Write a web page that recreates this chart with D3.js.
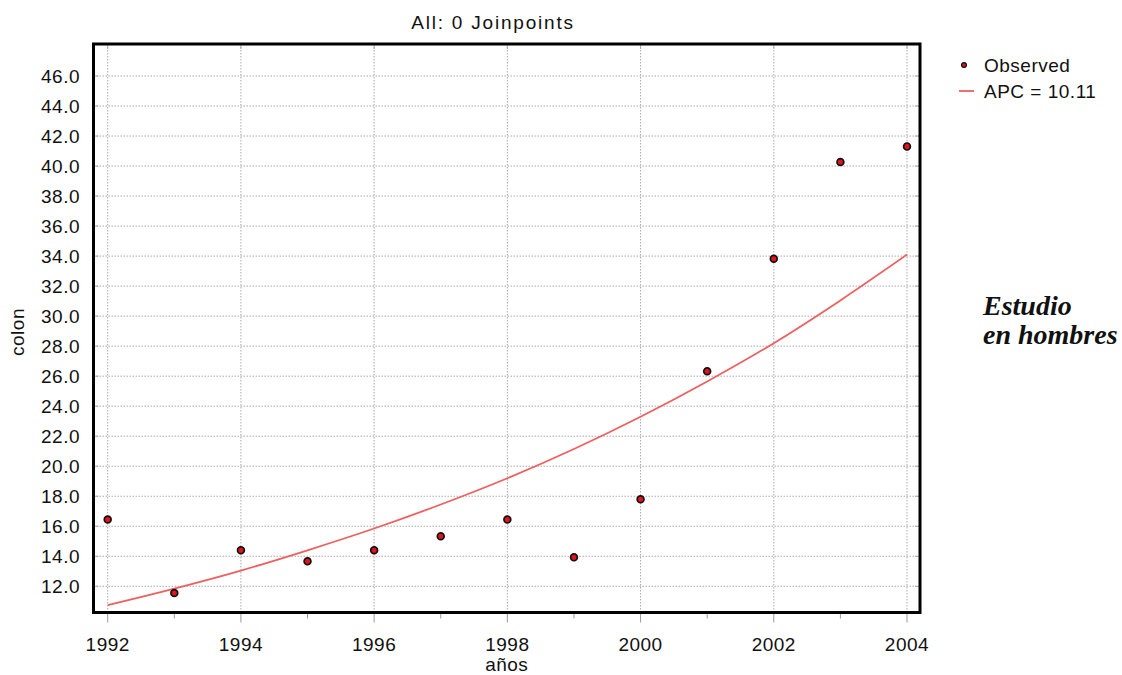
<!DOCTYPE html>
<html>
<head>
<meta charset="utf-8">
<script src="https://cdn.jsdelivr.net/npm/d3@7"></script>
<style>
  body { margin: 0; background: #fff; }
  text { font-family: "Liberation Sans", Arial, sans-serif; fill: #111; }
</style>
</head>
<body>
<div class="container"></div>
<script>
//Data
var years = [1992, 1993, 1994, 1995, 1996, 1997, 1998, 1999, 2000, 2001, 2002, 2003, 2004];
var observed = [16.45, 11.55, 14.4, 13.67, 14.4, 15.33, 16.45, 13.93, 17.8, 26.33, 33.82, 40.27, 41.31];
var fitted = [10.75, 11.85, 13.05, 14.4, 15.85, 17.45, 19.2, 21.15, 23.3, 25.65, 28.2, 31.05, 34.1];
var yTicks = [12, 14, 16, 18, 20, 22, 24, 26, 28, 30, 32, 34, 36, 38, 40, 42, 44, 46];
var xTicks = [1992, 1994, 1996, 1998, 2000, 2002, 2004];
var legendLabels = ["Observed", "APC = 10.11"];
var title = "All: 0 Joinpoints";

//margins
var width = 1122, height = 675;
var margin = {top: 44, right: 202, bottom: 62.5, left: 93.5},
    w = width - margin.left - margin.right,
    h = height - margin.top - margin.bottom;
var fs = "19px", ls = "0.5px";

var svg = d3.select(".container").append("svg")
    .attr("width", width)
    .attr("height", height);

var g = svg.append("g")
    .attr("transform", "translate(" + margin.left + "," + margin.top + ")");

//scales
var x = d3.scaleLinear().domain([1992, 2004]).range([14.2, 813.5]);
var y = d3.scaleLinear().domain([12, 46]).range([542.3, 32]);

//grid
var gridCol = "#aaa";
g.selectAll(".hgrid").data(yTicks).enter().append("line")
    .attr("x1", 0).attr("x2", w)
    .attr("y1", function(d){ return y(d); }).attr("y2", function(d){ return y(d); })
    .attr("stroke", gridCol).attr("stroke-dasharray", "1.5,1.5");
g.selectAll(".vgrid").data(xTicks).enter().append("line")
    .attr("y1", 0).attr("y2", h)
    .attr("x1", function(d){ return x(d); }).attr("x2", function(d){ return x(d); })
    .attr("stroke", gridCol).attr("stroke-dasharray", "1.5,1.5");

//small inner ticks
g.selectAll(".ltick").data(yTicks).enter().append("path")
    .attr("d", function(d){ return "M0," + y(d) + "h5M" + w + "," + y(d) + "h-5"; })
    .attr("stroke", gridCol);
g.selectAll(".ttick").data(xTicks).enter().append("path")
    .attr("d", function(d){ return "M" + x(d) + ",0v5"; })
    .attr("stroke", gridCol);

//x axis ticks below the frame (long at even years, short at odd)
g.selectAll(".xtick").data(years).enter().append("line")
    .attr("x1", function(d){ return x(d); }).attr("x2", function(d){ return x(d); })
    .attr("y1", h).attr("y2", function(d){ return h + (d % 2 === 0 ? 10 : 6); })
    .attr("stroke", "#999");

//tick labels
g.selectAll(".ylab").data(yTicks).enter().append("text")
    .attr("x", -13.5).attr("y", function(d){ return y(d); })
    .attr("dy", "0.35em")
    .attr("text-anchor", "end")
    .style("font-size", fs).style("letter-spacing", ls)
    .text(function(d){ return d3.format(".1f")(d); });
g.selectAll(".xlab").data(xTicks).enter().append("text")
    .attr("x", function(d){ return x(d); }).attr("y", h + 38)
    .attr("text-anchor", "middle")
    .style("font-size", fs).style("letter-spacing", ls)
    .text(function(d){ return d; });

//fitted line
var line = d3.line()
    .x(function(d, i){ return x(years[i]); })
    .y(function(d){ return y(d); })
    .curve(d3.curveMonotoneX);
g.append("path").datum(fitted)
    .attr("d", line)
    .attr("fill", "none")
    .attr("stroke", "#ee5f5f")
    .attr("stroke-width", 1.8);

//observed points
g.selectAll(".pt").data(observed).enter().append("circle")
    .attr("cx", function(d, i){ return x(years[i]); })
    .attr("cy", function(d){ return y(d); })
    .attr("r", 3.4)
    .attr("fill", "#e3131c")
    .attr("stroke", "#111")
    .attr("stroke-width", 1.7);

//frame
g.append("rect")
    .attr("width", w).attr("height", h)
    .attr("fill", "none").attr("stroke", "#000").attr("stroke-width", 3);

//titles
svg.append("text").attr("x", 493).attr("y", 29)
    .attr("text-anchor", "middle")
    .style("font-size", fs).style("letter-spacing", "1.8px")
    .text(title);
svg.append("text").attr("x", margin.left + w / 2).attr("y", 671)
    .attr("text-anchor", "middle")
    .style("font-size", fs).style("letter-spacing", ls)
    .text("años");
svg.append("text")
    .attr("transform", "translate(24,332) rotate(-90)")
    .attr("text-anchor", "middle")
    .style("font-size", fs).style("letter-spacing", ls)
    .text("colon");

//legend
var leg = svg.append("g").attr("transform", "translate(959,65)");
leg.append("circle").attr("cx", 5).attr("cy", 0).attr("r", 2.4)
    .attr("fill", "#e3131c").attr("stroke", "#111").attr("stroke-width", 1.3);
leg.append("line").attr("x1", 0).attr("x2", 15).attr("y1", 26).attr("y2", 26)
    .attr("stroke", "#ee5f5f").attr("stroke-width", 1.8);
leg.selectAll(".lt").data(legendLabels).enter().append("text")
    .attr("x", 25).attr("y", function(d, i){ return i * 26; })
    .attr("dy", "0.36em")
    .style("font-size", fs).style("letter-spacing", ls)
    .text(function(d){ return d; });

//note on the right
var note = svg.append("text")
    .style("font-family", "'Liberation Serif', 'Times New Roman', serif")
    .style("font-style", "italic").style("font-weight", "bold")
    .style("font-size", "28px");
note.append("tspan").attr("x", 983).attr("y", 315).text("Estudio");
note.append("tspan").attr("x", 983).attr("y", 344).text("en hombres");
</script>
</body>
</html>
